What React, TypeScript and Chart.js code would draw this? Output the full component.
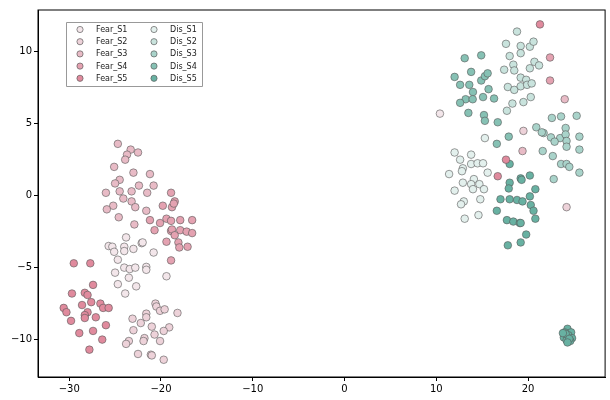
import { useEffect, useRef } from "react";
import { Chart, registerables } from "chart.js";

Chart.register(...registerables);

// axis ticks
const xTicks = [-30, -20, -10, 0, 10, 20];
const yTicks = [-10, -5, 0, 5, 10];

// t-SNE points, one list per subject
const fearS1: [number, number][] = [
  [-25.7, -3.5], [-25.3, -3.55], [-25.1, -3.9], [-23.8, -2.9], [-24.0, -3.55], [-24.0, -3.85],
  [-23.0, -3.7], [-22.1, -3.3], [-22.0, -3.25], [-20.8, -3.95], [-24.7, -4.45], [-24.0, -5.0],
  [-23.4, -5.1], [-22.8, -5.0], [-21.6, -4.95], [-21.6, -5.15], [-25.0, -5.35], [-23.5, -5.7],
  [-24.7, -6.15], [-22.7, -6.3], [-23.9, -6.8], [-19.4, -5.6], [10.4, 5.7],
];
const fearS2: [number, number][] = [
  [-20.6, -7.5], [-20.5, -7.7], [-20.1, -8.0], [-19.6, -7.9], [-18.2, -8.15], [-21.6, -8.2],
  [-21.6, -8.45], [-23.1, -8.55], [-22.2, -8.85], [-21.0, -9.1], [-19.1, -9.15], [-19.7, -9.4],
  [-23.0, -9.35], [-20.7, -9.65], [-21.8, -9.9], [-21.9, -10.1], [-20.1, -10.1], [-23.5, -10.1],
  [-23.8, -10.3], [-22.5, -11.0], [-21.1, -11.05], [-21.0, -11.1], [-19.7, -11.4], [19.5, 4.5],
  [24.2, -0.8],
];
const fearS3: [number, number][] = [
  [-24.7, 3.6], [-23.3, 3.2], [-22.5, 3.0], [-23.7, 2.85], [-23.9, 2.5], [-25.1, 2.0],
  [-23.0, 1.6], [-21.2, 1.5], [-24.5, 1.1], [-25.0, 0.85], [-22.4, 0.7], [-20.8, 0.7],
  [-26.0, 0.2], [-24.5, 0.3], [-23.2, 0.3], [-21.5, 0.2], [-24.1, -0.2], [-23.2, -0.4],
  [-22.8, -0.8], [-25.2, -0.7], [-25.9, -0.95], [-21.6, -1.05], [-24.6, -1.5], [-22.9, -2.0],
  [24.0, 6.7], [19.4, 3.1],
];
const fearS4: [number, number][] = [
  [-18.9, 0.2], [-19.8, -0.7], [-18.8, -0.8], [-18.5, -0.4], [-18.6, -0.55], [-21.2, -1.7],
  [-20.1, -1.9], [-19.4, -1.6], [-18.9, -1.75], [-17.9, -1.7], [-16.6, -1.7], [-20.7, -2.4],
  [-18.9, -2.45], [-18.8, -2.35], [-17.9, -2.4], [-18.5, -2.75], [-17.2, -2.5], [-16.6, -2.6],
  [-19.4, -3.2], [-18.1, -3.25], [-18.0, -3.6], [-17.1, -3.55], [-18.9, -4.5], [22.4, 9.6],
  [22.4, 8.0],
];
const fearS5: [number, number][] = [
  [-29.5, -4.7], [-27.7, -4.7], [-29.7, -6.8], [-27.4, -6.2], [-28.3, -6.75], [-28.0, -6.9],
  [-28.6, -7.6], [-27.6, -7.4], [-26.6, -7.5], [-26.3, -7.8], [-25.7, -7.8], [-30.6, -7.8],
  [-30.3, -8.1], [-28.0, -8.1], [-28.3, -8.3], [-28.3, -8.5], [-27.1, -8.45], [-29.8, -8.7],
  [-26.0, -9.0], [-28.9, -9.55], [-27.4, -9.4], [-26.4, -10.0], [-27.8, -10.7], [21.3, 11.9],
  [17.6, 2.5], [16.7, 1.35],
];
const disS1: [number, number][] = [
  [12.0, 3.0], [12.6, 2.5], [13.8, 2.85], [12.9, 1.9], [12.8, 1.7], [13.8, 2.2],
  [14.5, 2.25], [15.1, 2.25], [11.4, 1.5], [14.1, 1.15], [12.9, 0.9], [13.8, 0.8],
  [14.7, 0.8], [14.0, 0.45], [15.2, 0.45], [12.0, 0.35], [15.6, 1.6], [15.3, 4.0],
  [14.8, -0.25], [13.0, -0.4], [12.7, -0.6], [14.6, -1.35], [13.1, -1.6],
];
const disS2: [number, number][] = [
  [18.8, 11.4], [17.6, 10.55], [19.2, 10.4], [20.2, 10.35], [20.6, 10.7], [18.0, 9.7],
  [19.2, 9.9], [17.4, 8.75], [18.4, 9.1], [18.5, 8.7], [20.2, 8.85], [20.7, 9.3],
  [21.2, 9.05], [19.2, 8.2], [19.8, 8.05], [17.8, 7.55], [18.5, 7.35], [19.2, 7.6],
  [19.9, 7.7], [20.4, 7.8], [20.3, 6.85], [19.5, 6.5], [18.3, 6.4], [17.7, 5.9],
];
const disS3: [number, number][] = [
  [20.9, 4.75], [21.7, 4.35], [21.5, 4.4], [22.6, 5.4], [23.6, 5.5], [25.3, 5.55],
  [24.1, 4.7], [22.5, 4.05], [23.5, 4.0], [24.1, 4.25], [24.2, 3.8], [22.9, 3.75],
  [25.6, 4.1], [24.2, 3.4], [21.6, 3.1], [22.7, 2.75], [25.6, 3.2], [23.6, 2.2],
  [24.2, 2.2], [24.5, 2.0], [25.6, 1.6], [22.8, 1.15],
];
const disS4: [number, number][] = [
  [13.1, 9.55], [14.9, 9.75], [12.0, 8.25], [13.8, 8.6], [12.6, 7.7], [13.6, 7.7],
  [14.9, 8.0], [15.3, 8.3], [15.6, 8.5], [14.0, 7.2], [13.2, 6.7], [12.6, 6.45],
  [13.97, 6.7], [15.7, 7.4], [15.1, 6.85], [16.3, 6.75], [13.5, 5.75], [15.2, 5.6],
  [15.3, 5.2], [16.7, 5.1], [16.6, 3.6], [17.9, 4.1],
];
const disS5: [number, number][] = [
  [18.0, 2.2], [18.0, 0.9], [19.2, 1.2], [19.3, 1.1], [20.2, 1.4], [20.8, 0.45],
  [17.0, -0.25], [18.0, -0.25], [18.8, -0.3], [19.4, -0.4], [20.2, -0.05], [17.9, 0.5],
  [20.3, -0.65], [20.6, -1.05], [16.6, -1.05], [20.8, -1.6], [17.7, -1.7], [18.4, -1.8],
  [19.1, -1.9], [19.2, -1.9], [19.8, -2.7], [17.8, -3.45], [19.2, -3.25],
  [24.3, -9.25], [24.7, -9.5], [24.0, -9.5], [24.4, -9.7], [23.9, -9.85], [24.8, -9.9],
  [24.2, -10.05], [24.6, -10.1], [24.1, -9.6], [24.5, -9.95], [23.8, -9.55], [24.3, -10.2],
];

const fearNames = ["Fear_S1", "Fear_S2", "Fear_S3", "Fear_S4", "Fear_S5"];
const disNames = ["Dis_S1", "Dis_S2", "Dis_S3", "Dis_S4", "Dis_S5"];
const fearData = [fearS1, fearS2, fearS3, fearS4, fearS5];
const disData = [disS1, disS2, disS3, disS4, disS5];
const fearColors = ["#f3e6ea", "#edd2d9", "#e8bbc6", "#e4a2b1", "#e08a9d"];
const disColors = ["#e3f0ed", "#c9e3dd", "#a9d3ca", "#86c1b4", "#68b1a2"];
const edgeColor = "rgba(85,85,85,0.65)";

const frame = {
  id: "frame",
  afterDraw(chart: Chart) {
    const { ctx, chartArea: a } = chart;
    ctx.save();
    ctx.strokeStyle = "#000";
    ctx.lineWidth = 1;
    ctx.strokeRect(a.left, a.top, a.right - a.left, a.bottom - a.top);
    ctx.restore();
  },
};

const boxLegend = {
  id: "boxLegend",
  afterDraw(chart: Chart) {
    const { ctx, chartArea: a } = chart;
    const x0 = a.left + 28;
    const y0 = a.top + 12;
    ctx.save();
    ctx.fillStyle = "rgba(255,255,255,0.85)";
    ctx.strokeStyle = "#999";
    ctx.lineWidth = 1;
    ctx.beginPath();
    ctx.rect(x0 + 0.5, y0 + 0.5, 136, 64);
    ctx.fill();
    ctx.stroke();
    ctx.font = "8px 'DejaVu Sans'";
    ctx.textBaseline = "middle";
    const cols = [
      { names: fearNames, colors: fearColors },
      { names: disNames, colors: disColors },
    ];
    cols.forEach((col, c) => {
      col.names.forEach((name, i) => {
        const cx = x0 + 14 + c * 74;
        const cy = y0 + 7.5 + i * 12.2;
        ctx.beginPath();
        ctx.arc(cx, cy, 3.1, 0, Math.PI * 2);
        ctx.fillStyle = col.colors[i];
        ctx.fill();
        ctx.strokeStyle = edgeColor;
        ctx.stroke();
        ctx.fillStyle = "#222";
        ctx.fillText(name, cx + 16, cy + 0.5);
      });
    });
    ctx.restore();
  },
};

const minus = (v: number) => String(v).replace("-", "\u2212");

export default function App() {
  const ref = useRef<HTMLCanvasElement | null>(null);
  useEffect(() => {
    document.body.style.margin = "0";
    if (!ref.current) return;
    const datasets = [
      ...fearData.map((d, i) => ({ label: fearNames[i], data: d, color: fearColors[i] })),
      ...disData.map((d, i) => ({ label: disNames[i], data: d, color: disColors[i] })),
    ].map((s) => ({
      label: s.label,
      data: s.data.map(([x, y]) => ({ x, y })),
      backgroundColor: s.color,
      borderColor: edgeColor,
      borderWidth: 0.9,
      pointRadius: 3.8,
    }));
    const chart = new Chart(ref.current, {
      type: "scatter",
      data: { datasets },
      options: {
        animation: false,
        responsive: false,
        layout: { padding: { top: 10, right: 2, left: 0, bottom: 0 } },
        plugins: { legend: { display: false }, tooltip: { enabled: false } },
        scales: {
          x: {
            min: -33.4,
            max: 28.4,
            afterBuildTicks: (axis: any) => {
              axis.ticks = xTicks.map((v) => ({ value: v }));
            },
            afterFit: (axis: any) => {
              axis.height = 23;
            },
            grid: { drawOnChartArea: false, tickLength: 4, tickColor: "#000" },
            border: { color: "#000" },
            ticks: {
              color: "#000",
              padding: 2,
              font: { family: "'DejaVu Sans'", size: 10 },
              callback: (v: any) => minus(v),
            },
          },
          y: {
            min: -12.6,
            max: 12.9,
            afterBuildTicks: (axis: any) => {
              axis.ticks = yTicks.map((v) => ({ value: v }));
            },
            afterFit: (axis: any) => {
              axis.width = 38;
            },
            grid: { drawOnChartArea: false, tickLength: 4, tickColor: "#000" },
            border: { color: "#000" },
            ticks: {
              color: "#000",
              padding: 2,
              font: { family: "'DejaVu Sans'", size: 10 },
              callback: (v: any) => minus(v),
            },
          },
        },
      },
      plugins: [frame, boxLegend],
    });
    return () => chart.destroy();
  }, []);

  return (
    <div style={{ width: 610, height: 400 }}>
      <canvas ref={ref} width={610} height={400}></canvas>
    </div>
  );
}
